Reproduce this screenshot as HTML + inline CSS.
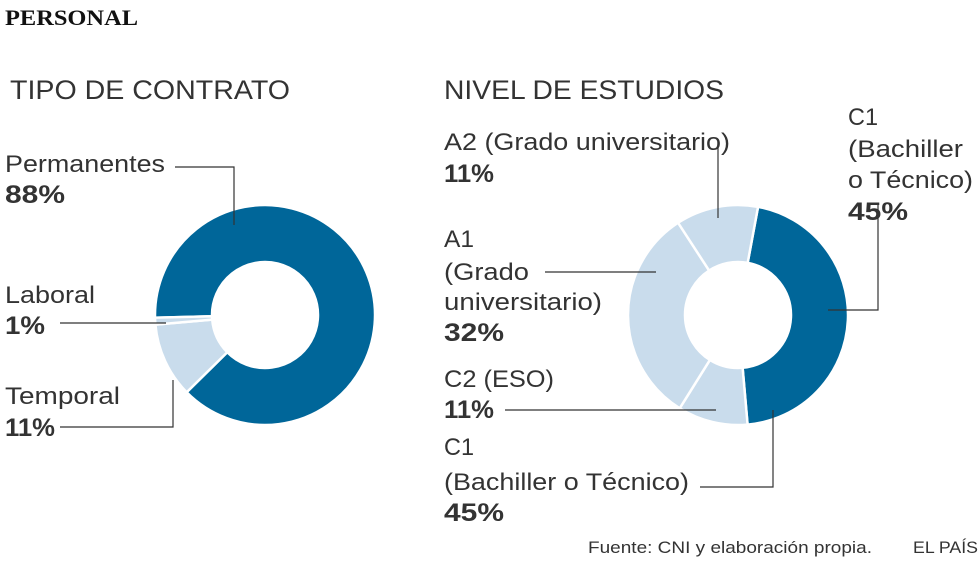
<!DOCTYPE html>
<html><head><meta charset="utf-8"><style>
body{margin:0;background:#fff;width:980px;height:574px;overflow:hidden}
svg text{font-family:"Liberation Sans",sans-serif;fill:#333}
.l{font-size:24px}.b{font-size:25px;font-weight:bold}.h{font-size:27px;fill:#333}
</style></head><body>
<svg id="s" width="980" height="574" xmlns="http://www.w3.org/2000/svg">
<text x="5" y="25" textLength="133" lengthAdjust="spacingAndGlyphs" style="font-family:'Liberation Serif',serif;font-weight:bold;font-size:22px;fill:#111">PERSONAL</text>
<text class="h" x="10" y="99" textLength="280" lengthAdjust="spacingAndGlyphs">TIPO DE CONTRATO</text>
<text class="h" x="444" y="99" textLength="280" lengthAdjust="spacingAndGlyphs">NIVEL DE ESTUDIOS</text>
<g id="d"></g>
<g stroke="#333" stroke-width="1.2" fill="none">
<polyline points="175,167 234,167 234,225"/>
<polyline points="60,323 166,323"/>
<polyline points="60,427 173,427 173,380"/>
<polyline points="718,140 718,218"/>
<polyline points="545,272 656,272"/>
<polyline points="505,410 716,410"/>
<polyline points="700,487 773,487 773,410"/>
<polyline points="878,205 878,310 828,310"/>
</g>
<text class="l" x="5" y="172" textLength="160" lengthAdjust="spacingAndGlyphs">Permanentes</text><text class="b" x="5" y="203" textLength="60" lengthAdjust="spacingAndGlyphs">88%</text>
<text class="l" x="5" y="303" textLength="90" lengthAdjust="spacingAndGlyphs">Laboral</text><text class="b" x="5" y="334" textLength="40" lengthAdjust="spacingAndGlyphs">1%</text>
<text class="l" x="5" y="404" textLength="115" lengthAdjust="spacingAndGlyphs">Temporal</text><text class="b" x="5" y="436" textLength="50" lengthAdjust="spacingAndGlyphs">11%</text>
<text class="l" x="444" y="150" textLength="286" lengthAdjust="spacingAndGlyphs">A2 (Grado universitario)</text><text class="b" x="444" y="182" textLength="50" lengthAdjust="spacingAndGlyphs">11%</text>
<text class="l" x="444" y="247" textLength="30" lengthAdjust="spacingAndGlyphs">A1</text><text class="l" x="444" y="280" textLength="85" lengthAdjust="spacingAndGlyphs">(Grado</text><text class="l" x="444" y="310" textLength="158" lengthAdjust="spacingAndGlyphs">universitario)</text><text class="b" x="444" y="341" textLength="60" lengthAdjust="spacingAndGlyphs">32%</text>
<text class="l" x="444" y="387" textLength="110" lengthAdjust="spacingAndGlyphs">C2 (ESO)</text><text class="b" x="444" y="418" textLength="50" lengthAdjust="spacingAndGlyphs">11%</text>
<text class="l" x="444" y="455" textLength="30" lengthAdjust="spacingAndGlyphs">C1</text><text class="l" x="444" y="490" textLength="245" lengthAdjust="spacingAndGlyphs">(Bachiller o Técnico)</text><text class="b" x="444" y="521" textLength="60" lengthAdjust="spacingAndGlyphs">45%</text>
<text class="l" x="848" y="125" textLength="30" lengthAdjust="spacingAndGlyphs">C1</text><text class="l" x="848" y="157" textLength="115" lengthAdjust="spacingAndGlyphs">(Bachiller</text><text class="l" x="848" y="188" textLength="125" lengthAdjust="spacingAndGlyphs">o Técnico)</text><text class="b" x="848" y="220" textLength="60" lengthAdjust="spacingAndGlyphs">45%</text>
<text x="588" y="553" textLength="284" lengthAdjust="spacingAndGlyphs" style="font-size:17px">Fuente: CNI y  elaboración propia.</text>
<text x="913" y="553" textLength="65" lengthAdjust="spacingAndGlyphs" style="font-size:17px">EL PAÍS</text>
</svg>
<script>
function arc(cx,cy,R,r,a0,a1,c){
 function p(rad,a){a=a*Math.PI/180;return [cx+rad*Math.sin(a),cy-rad*Math.cos(a)];}
 var L=(a1-a0)>180?1:0,A=p(R,a0),B=p(R,a1),C=p(r,a1),D=p(r,a0);
 return '<path d="M'+A+' A'+R+','+R+' 0 '+L+' 1 '+B+' L'+C+' A'+r+','+r+' 0 '+L+' 0 '+D+' Z" fill="'+c+'" stroke="#fff" stroke-width="2.5"/>';
}
var dk="#006699",lt="#c9dcec",h="";
h+=arc(265,315,110,53,268.6,585.4,dk);
h+=arc(265,315,110,53,225.4,265,lt);
h+=arc(265,315,110,53,265,268.6,lt);
h+=arc(738,315,110,53,10.5,175,dk);
h+=arc(738,315,110,53,175,212,lt);
h+=arc(738,315,110,53,212,327,lt);
h+=arc(738,315,110,53,327,370.5,lt);
document.getElementById('d').innerHTML=h;
</script>
</body></html>
